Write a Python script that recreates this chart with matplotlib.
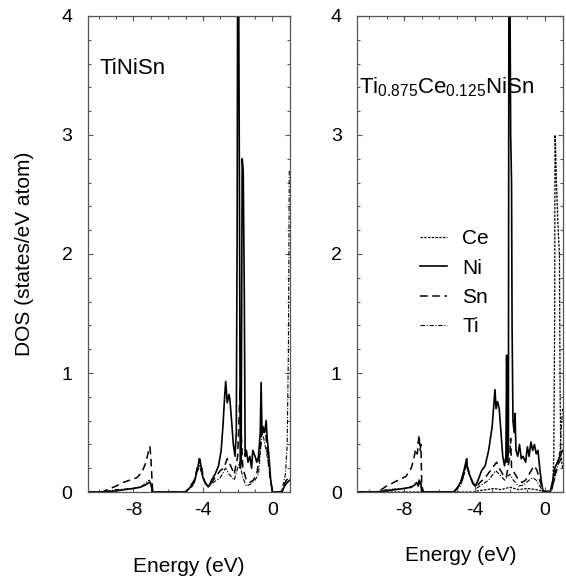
import numpy as np
import matplotlib
matplotlib.use('Agg')
import matplotlib.pyplot as plt
from matplotlib.ticker import MultipleLocator, FixedLocator

plt.rcParams['font.family'] = ['Liberation Sans', 'DejaVu Sans']
plt.rcParams['mathtext.fontset'] = 'custom'
plt.rcParams['mathtext.rm'] = 'Liberation Sans'
plt.rcParams['axes.unicode_minus'] = False

# ---- TiNiSn (left panel) ----
ni_a_E = [-10.6, -9.7, -9.0, -8.5, -8.0, -7.6, -7.3, -7.1, -7.0, -6.9, -5.0, -4.8, -4.5, -4.3,
          -4.2, -4.15, -4.0, -3.8, -3.65, -3.5, -3.3, -3.1, -2.95, -2.85, -2.75, -2.69, -2.6,
          -2.5, -2.45, -2.35, -2.25, -2.15, -2.08, -2.03, -2.0, -1.95, -1.9, -1.85, -1.8, -1.74,
          -1.68, -1.62, -1.57, -1.5, -1.4, -1.3, -1.2, -1.13, -1.0, -0.9, -0.8, -0.7, -0.65,
          -0.6, -0.55, -0.45, -0.36, -0.3, -0.2, -0.1, 0.0, 0.55, 0.7, 0.85, 1.0]
ni_a_D = [0, 0, 0.01, 0.02, 0.03, 0.04, 0.06, 0.08, 0.07, 0, 0, 0.03, 0.08, 0.2,
          0.28, 0.25, 0.12, 0.06, 0.05, 0.1, 0.15, 0.22, 0.35, 0.55, 0.8, 0.93, 0.75,
          0.82, 0.78, 0.6, 0.4, 0.3, 0.5, 2.2, 4.5, 4.5, 2.6, 0.2, 0.25, 2.8,
          2.7, 1.7, 0.3, 0.35, 0.25, 0.3, 0.2, 0.35, 0.3, 0.25, 0.3, 0.5, 0.92,
          0.5, 0.55, 0.5, 0.6, 0.45, 0.3, 0.1, 0, 0, 0.05, 0.08, 0.1]

sn_a_E = [-10.6, -9.8, -9.5, -9.0, -8.6, -8.2, -7.8, -7.5, -7.3, -7.15, -7.05, -7.0, -6.9, -6.8,
          -5.0, -4.8, -4.5, -4.3, -4.2, -4.1, -3.9, -3.7, -3.5, -3.3, -3.0, -2.8, -2.6, -2.4,
          -2.2, -2.0, -1.9, -1.85, -1.8, -1.7, -1.5, -1.3, -1.1, -0.9, -0.7, -0.6, -0.5, -0.4,
          -0.3, -0.15, 0.0, 0.5, 0.65, 0.8, 1.0]
sn_a_D = [0, 0, 0.02, 0.05, 0.08, 0.1, 0.12, 0.17, 0.24, 0.33, 0.38, 0.3, 0.02, 0,
          0, 0.03, 0.1, 0.22, 0.28, 0.22, 0.08, 0.05, 0.08, 0.12, 0.18, 0.2, 0.28, 0.22,
          0.15, 0.3, 0.7, 0.88, 0.5, 0.2, 0.1, 0.08, 0.1, 0.15, 0.35, 0.55, 0.5, 0.52,
          0.35, 0.15, 0, 0, 0.05, 0.1, 0.12]

ti_a_E = [-10.6, -9.8, -9.0, -8.0, -7.5, -7.1, -7.0, -6.9, -5.0, -4.6, -4.2, -4.0, -3.7, -3.4,
          -3.0, -2.7, -2.5, -2.2, -1.9, -1.7, -1.5, -1.2, -1.0, -0.8, -0.6, -0.5, -0.3, -0.1,
          0.0, 0.5, 0.6, 0.75, 0.85, 0.92, 0.97, 1.0]
ti_a_D = [0, 0, 0.02, 0.03, 0.05, 0.1, 0.08, 0, 0, 0.05, 0.22, 0.12, 0.04, 0.08,
          0.12, 0.2, 0.15, 0.1, 0.25, 0.12, 0.05, 0.07, 0.1, 0.15, 0.5, 0.45, 0.3, 0.1,
          0, 0, 0.05, 0.15, 0.4, 1.2, 2.7, 2.7]

# ---- Ti0.875Ce0.125NiSn (right panel) ----
ce_b_E = [-10.7, -4.0, -3.8, -3.3, -2.9, -2.5, -2.0, -1.5, -1.0, -0.5, -0.2, 0.0, 0.3, 0.45,
          0.5, 0.55, 0.57, 0.6, 0.65, 0.75, 0.82, 0.86, 0.9, 1.0]
ce_b_D = [0, 0, 0.01, 0.02, 0.03, 0.02, 0.04, 0.02, 0.03, 0.02, 0.01, 0, 0.02, 0.1,
          0.3, 1.5, 3.0, 2.9, 2.6, 2.2, 2.0, 0.8, 0.3, 0.2]

ni_b_E = [-10.7, -9.6, -9.0, -8.5, -8.0, -7.6, -7.4, -7.3, -7.2, -7.15, -7.05, -7.0, -5.2, -5.0,
          -4.8, -4.6, -4.5, -4.45, -4.4, -4.3, -4.1, -3.95, -3.8, -3.6, -3.4, -3.2, -3.0, -2.9,
          -2.84, -2.78, -2.7, -2.6, -2.5, -2.4, -2.3, -2.22, -2.18, -2.14, -2.08, -2.05, -2.0,
          -1.95, -1.9, -1.87, -1.82, -1.75, -1.7, -1.65, -1.55, -1.45, -1.35, -1.25, -1.1, -1.0,
          -0.9, -0.8, -0.7, -0.6, -0.5, -0.4, -0.3, -0.2, -0.1, 0.3, 0.45, 0.55, 0.7, 0.85, 1.0]
ni_b_D = [0, 0, 0.01, 0.02, 0.03, 0.04, 0.06, 0.08, 0.05, 0.1, 0.07, 0, 0, 0.03,
          0.08, 0.18, 0.25, 0.28, 0.2, 0.15, 0.08, 0.05, 0.1, 0.18, 0.22, 0.35, 0.55, 0.75,
          0.86, 0.7, 0.76, 0.7, 0.5, 0.3, 0.22, 0.3, 1.15, 0.25, 0.35, 4.5, 4.5,
          3.0, 2.6, 1.4, 0.6, 0.5, 0.66, 0.35, 0.3, 0.4, 0.28, 0.3, 0.25, 0.38,
          0.3, 0.42, 0.35, 0.4, 0.32, 0.35, 0.2, 0.08, 0, 0, 0.1, 0.2, 0.25, 0.3, 0.35]

sn_b_E = [-10.7, -9.6, -9.3, -9.0, -8.6, -8.2, -7.9, -7.6, -7.45, -7.35, -7.25, -7.2, -7.15, -7.1,
          -7.05, -7.0, -6.9, -5.2, -5.0, -4.7, -4.5, -4.45, -4.3, -4.1, -3.9, -3.7, -3.4, -3.1,
          -2.9, -2.75, -2.6, -2.4, -2.2, -2.0, -1.95, -1.9, -1.7, -1.5, -1.3, -1.1, -0.9, -0.7,
          -0.6, -0.45, -0.3, -0.15, 0.0, 0.35, 0.5, 0.65, 0.8, 1.0]
sn_b_D = [0, 0, 0.02, 0.05, 0.08, 0.11, 0.13, 0.2, 0.28, 0.36, 0.32, 0.42, 0.48, 0.35,
          0.4, 0.05, 0, 0, 0.03, 0.1, 0.22, 0.25, 0.15, 0.07, 0.04, 0.08, 0.12, 0.18,
          0.22, 0.25, 0.2, 0.15, 0.12, 0.3, 0.45, 0.2, 0.15, 0.1, 0.08, 0.1, 0.15, 0.2,
          0.22, 0.18, 0.1, 0.03, 0, 0, 0.1, 0.2, 0.25, 0.3]

ti_b_E = [-10.7, -9.6, -9.0, -8.0, -7.5, -7.15, -7.0, -6.9, -5.2, -4.8, -4.45, -4.2, -3.9, -3.6,
          -3.2, -2.8, -2.6, -2.3, -2.0, -1.8, -1.5, -1.2, -0.9, -0.7, -0.5, -0.3, -0.1, 0.35,
          0.5, 0.7, 0.85, 0.95, 1.0]
ti_b_D = [0, 0, 0.02, 0.03, 0.05, 0.08, 0.02, 0, 0, 0.05, 0.22, 0.1, 0.03, 0.06,
          0.1, 0.18, 0.15, 0.1, 0.15, 0.1, 0.05, 0.06, 0.1, 0.12, 0.1, 0.05, 0, 0,
          0.08, 0.2, 0.35, 0.6, 0.7]

styles = {
    'Ce': dict(color='black', lw=0.9, ls=(0, (2, 1))),
    'Ni': dict(color='black', lw=1.2, ls='-'),
    'Sn': dict(color='black', lw=1.1, ls=(0, (5, 3))),
    'Ti': dict(color='black', lw=0.8, ls=(0, (4, 1.5, 1, 1.5))),
}

fig = plt.figure(figsize=(5.66, 5.77), dpi=100)
ax1 = fig.add_axes([0.155, 0.1473, 0.357, 0.825])
ax2 = fig.add_axes([0.6307, 0.1473, 0.3633, 0.825])

ax1.plot(ni_a_E, ni_a_D, **styles['Ni'])
ax1.plot(sn_a_E, sn_a_D, **styles['Sn'])
ax1.plot(ti_a_E, ti_a_D, **styles['Ti'])

ax2.plot(ce_b_E, ce_b_D, label='Ce', **styles['Ce'])
ax2.plot(ni_b_E, ni_b_D, label='Ni', **styles['Ni'])
ax2.plot(sn_b_E, sn_b_D, label='Sn', **styles['Sn'])
ax2.plot(ti_b_E, ti_b_D, label='Ti', **styles['Ti'])

for ax, xmin in ((ax1, -10.63), (ax2, -10.68)):
    ax.set_xlim(xmin, 1.0)
    ax.set_ylim(0, 4)
    ax.xaxis.set_major_locator(FixedLocator([-8, -4, 0]))
    ax.xaxis.set_minor_locator(MultipleLocator(1))
    ax.yaxis.set_major_locator(MultipleLocator(1))
    ax.yaxis.set_minor_locator(MultipleLocator(0.2))
    ax.tick_params(which='both', direction='in', top=True, right=True,
                   color='#555555', width=0.8, labelsize=14)
    ax.tick_params(which='major', length=3.5)
    ax.tick_params(which='minor', length=2.5)
    ax.tick_params(axis='x', pad=7)
    ax.tick_params(axis='y', pad=11)
    for s in ax.spines.values():
        s.set_color('#555555')
        s.set_linewidth(0.9)

ax1.text(0.06, 0.89, 'TiNiSn', transform=ax1.transAxes, fontsize=16,
         ha='left', va='center')
ax2.text(0.01, 0.85, r'Ti$_{\mathregular{0.875}}$Ce$_{\mathregular{0.125}}$NiSn',
         transform=ax2.transAxes, fontsize=16, ha='left', va='center')

ax2.legend(loc='upper left', bbox_to_anchor=(0.305, 0.552), frameon=False,
           fontsize=15, handlelength=1.3, handletextpad=0.75, labelspacing=0.5,
           borderaxespad=0, borderpad=0)

fig.text(0.044, 0.56, 'DOS (states/eV atom)', rotation=90, fontsize=15,
         ha='center', va='center')
fig.text(0.334, 0.008, 'Energy (eV)', fontsize=15, ha='center', va='baseline')
fig.text(0.814, 0.027, 'Energy (eV)', fontsize=15, ha='center', va='baseline')

fig.savefig('out.png', dpi=100)
